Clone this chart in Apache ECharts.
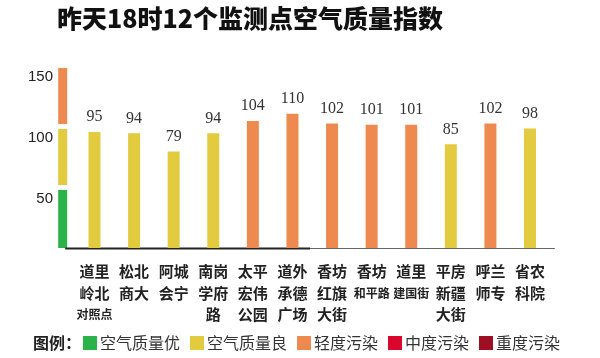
<!DOCTYPE html>
<html><head><meta charset="utf-8">
<script src="https://cdn.jsdelivr.net/npm/echarts@6/dist/echarts.min.js"></script>
<style>html,body{margin:0;padding:0;background:#fff}#c{width:600px;height:358px}</style>
</head><body><div id="c"></div>
<script>
var categories = ['道里\n岭北\n{s|对照点}', '松北\n商大', '阿城\n会宁', '南岗\n学府\n路', '太平\n宏伟\n公园', '道外\n承德\n广场',
  '香坊\n红旗\n大街', '香坊\n{s|和平路}', '道里\n{s|建国街}', '平房\n新疆\n大街', '呼兰\n师专', '省农\n科院'];
var aqiValues = [95, 94, 79, 94, 104, 110, 102, 101, 101, 85, 102, 98];
var scaleBands = [[0, 50], [50, 100], [100, 150]];
var bandColors = ['#2bb34a', '#e2cb3f', '#ee8a4f'];
var yTicks = [0, 50, 100, 150];
var levelNames = ['空气质量优', '空气质量良', '轻度污染', '中度污染', '重度污染'];
var levelColors = ['#2bb34a', '#e2cb3f', '#ee8a4f', '#d8072b', '#9e0f24'];
var levelBounds = [[0, 50], [50, 100], [100, 150], [150, 200], [200, 300]];

var chart = echarts.init(document.getElementById('c'));
var cjk = '"Noto Sans CJK SC", sans-serif';
chart.setOption({
  animation: false,
  title: [
    { text: '昨天18时12个监测点空气质量指数', left: 52, top: 1,
      textStyle: { fontFamily: cjk, fontWeight: 900, fontSize: 25, color: '#111' } },
    { text: '图例：', left: 28, top: 330,
      textStyle: { fontFamily: cjk, fontWeight: 'bold', fontSize: 16, color: '#222' } }
  ],
  grid: { left: 74.7, right: 50.2, top: 65, bottom: 110 },
  xAxis: {
    type: 'category', data: categories,
    axisLine: { show: false }, axisTick: { show: false },
    axisLabel: { interval: 0, margin: 13, fontFamily: cjk, fontWeight: 'bold', fontSize: 15,
      lineHeight: 21.5, color: '#222',
      rich: { s: { fontFamily: cjk, fontWeight: 'bold', fontSize: 12, lineHeight: 21.5, color: '#222' } } }
  },
  yAxis: {
    type: 'value', min: yTicks[0], max: yTicks[yTicks.length - 1], interval: 50,
    axisLine: { show: false }, axisTick: { show: false }, splitLine: { show: false },
    axisLabel: { showMinLabel: false, margin: 21.7, verticalAlign: 'top', padding: [4, 0, 0, 0],
      fontFamily: 'Liberation Sans, Arial, sans-serif', fontSize: 15, color: '#222' }
  },
  visualMap: {
    type: 'piecewise', seriesIndex: 0, orient: 'horizontal', left: 68, top: 320,
    itemWidth: 14, itemHeight: 14, itemGap: 10, textGap: 3, itemSymbol: 'rect',
    textStyle: { fontFamily: cjk, fontSize: 16, color: '#333' },
    pieces: levelNames.map(function (n, i) {
      return i === 0 ? { gte: levelBounds[i][0], lte: levelBounds[i][1], label: n, color: levelColors[i] }
                     : { gt: levelBounds[i][0], lte: levelBounds[i][1], label: n, color: levelColors[i] };
    })
  },
  series: [
    { type: 'bar', data: aqiValues, barWidth: 12,
      label: { show: true, position: 'top', distance: 7, fontFamily: 'Liberation Serif, serif', fontSize: 16, color: '#333' } },
    { type: 'custom', clip: false, silent: true, data: scaleBands,
      renderItem: function (params, api) {
        var lo = api.value(0), hi = api.value(1);
        var cs = params.coordSys;
        var x0 = cs.x - 16.5;
        var yHi = api.coord([0, hi])[1] + 3;
        var yLo = api.coord([0, lo])[1] - (lo ? 2 : 0);
        var children = [{ type: 'rect', shape: { x: x0, y: yHi, width: 9, height: yLo - yHi },
          style: { fill: bandColors[params.dataIndex] } }];
        if (lo === 0) {
          var yb = api.coord([0, 0])[1];
          children.push({ type: 'line', shape: { x1: x0 + 7, y1: yb + 0.5, x2: 310, y2: yb + 0.5 },
            style: { stroke: '#222', lineWidth: 2 } });
          children.push({ type: 'line', shape: { x1: 310, y1: yb + 0.5, x2: cs.x + cs.width + 5, y2: yb + 0.5 },
            style: { stroke: '#666', lineWidth: 1 } });
        }
        return { type: 'group', children: children };
      }
    }
  ]
});
</script></body></html>
